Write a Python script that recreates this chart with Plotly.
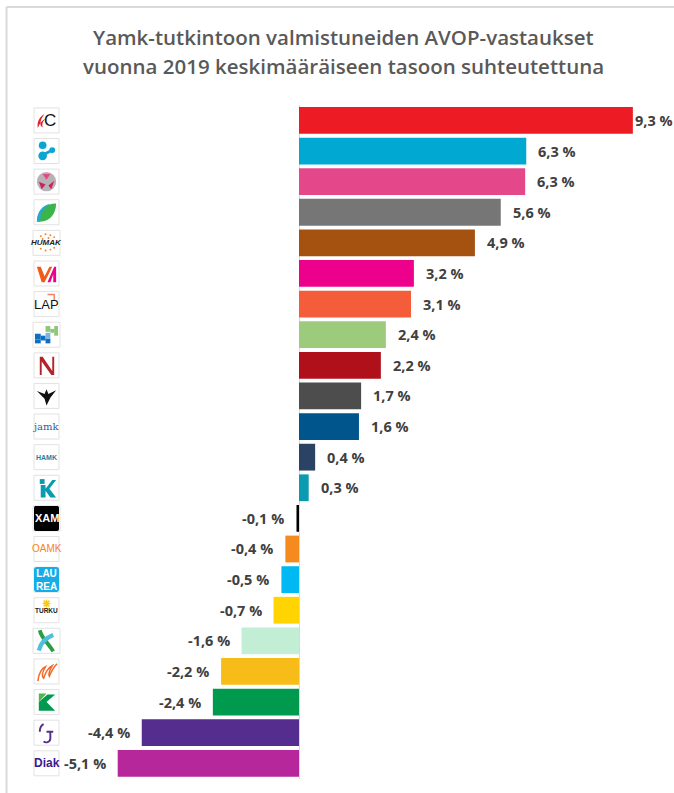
import base64
import plotly.graph_objects as go

W, H = 674, 793

logos = ["CC", "dots", "ball", "leaf", "HUMAK", "VA", "LAP", "blocks", "N", "bird", "jamk",
         "HAMK", "K-teal", "XAMK", "OAMK", "LAUREA", "TURKU", "X", "M", "K-green", "rj", "Diak"]
values = [9.3, 6.33, 6.3, 5.62, 4.9, 3.2, 3.12, 2.42, 2.28, 1.73, 1.67,
          0.45, 0.27, -0.07, -0.38, -0.49, -0.71, -1.6, -2.17, -2.4, -4.38, -5.05]
labels = ["9,3 %", "6,3 %", "6,3 %", "5,6 %", "4,9 %", "3,2 %", "3,1 %", "2,4 %", "2,2 %", "1,7 %", "1,6 %",
          "0,4 %", "0,3 %", "-0,1 %", "-0,4 %", "-0,5 %", "-0,7 %", "-1,6 %", "-2,2 %", "-2,4 %", "-4,4 %", "-5,1 %"]
colors = ["#ed1c24", "#00a8d2", "#e5488a", "#767676", "#a5510f", "#ec008c", "#f55c3a", "#9ccb7c",
          "#b0101a", "#4d4d4d", "#00558c", "#2a4365", "#0b9bb0", "#000000", "#f58a1f", "#00b9f2",
          "#ffd400", "#c2eed6", "#f7bc18", "#009a4e", "#552d8e", "#b5279a"]
title_lines = ["Yamk-tutkintoon valmistuneiden AVOP-vastaukset",
               "vuonna 2019 keskimääräiseen tasoon suhteutettuna"]

# Text inside the logo tiles: logo id -> (text, colour, size, family, bold)
logo_text = {
    "CC": ("C", "#111111", 17, "Liberation Sans", False),
    "HUMAK": ("<i>HUMAK</i>", "#222222", 8, "Liberation Sans", True),
    "LAP": ("LAP", "#111111", 13, "Liberation Sans", False),
    "jamk": ("jamk", "#2a5f95", 10, "DejaVu Serif", False),
    "HAMK": ("HAMK", "#1f7f9f", 7, "Liberation Sans", True),
    "XAMK": ("XAM", "#ffffff", 11, "Liberation Sans", True),
    "OAMK": ("OAMK", "#f58220", 10, "Liberation Sans", False),
    "LAUREA": ("LAU<br>REA", "#ffffff", 10, "Liberation Sans", True),
    "TURKU": ("TURKU", "#222222", 6.5, "Liberation Sans", True),
    "Diak": ("Diak", "#3b1a8f", 12, "Liberation Sans", True),
}

# Logo graphics, in a 26x26 tile
logo_svg = {
    "CC": '<path d="M11 6C5 10 3 15 4 21C6 16 8 13 12 11C9 14 8 17 9 20C6 19 5 14 11 6Z" fill="#e3202c"/>',
    "dots": '<circle cx="9" cy="7" r="4" fill="#0aa5d3"/><circle cx="19" cy="12" r="3" fill="#0aa5d3"/>'
            '<circle cx="9" cy="18" r="4.5" fill="#0aa5d3"/><path d="M10 17L19 12" stroke="#0aa5d3" stroke-width="3"/>',
    "ball": '<circle cx="13" cy="13" r="10" fill="#b9b2b5"/><path d="M9 5L17 5L13 11Z" fill="#e5488a"/>'
            '<path d="M5 13L12 16L8 21Z" fill="#c7245f"/><path d="M21 12L15 17L18 21Z" fill="#c7245f"/>',
    "leaf": '<path d="M3 23C3 12 12 4 23 4C23 14 17 23 6 23Z" fill="#3bb54a"/>'
            '<path d="M3 23C3 12 9 6 17 4C9 9 7 16 6 23Z" fill="#2ba8c8"/>',
    "HUMAK": ''.join(f'<circle cx="{x}" cy="{y}" r="1" fill="#f58220"/>' for x, y in
                     [(7, 6), (12, 4), (17, 5), (21, 7), (9, 9), (15, 8), (7, 19), (12, 21), (17, 20), (21, 18)]),
    "VA": '<path d="M3 6H7L11 16L16 6H19L11 22H8Z" fill="#f05a1a"/><path d="M14 22L21 6H23V22H20V14L17 22Z" fill="#ec008c"/>',
    "LAP": '<path d="M14 3H21V9" fill="none" stroke="#f0826a" stroke-width="1.5"/>',
    "blocks": '<g fill="#0d6fc2"><rect x="1" y="12" width="6" height="6"/><rect x="1" y="18" width="6" height="4"/>'
              '<rect x="7" y="14" width="5" height="5"/><rect x="12" y="17" width="5" height="5"/></g>'
              '<rect x="12" y="11" width="5" height="6" fill="#7fb3e0"/>'
              '<g fill="#8fc67a"><rect x="12" y="4" width="5" height="6"/><rect x="17" y="7" width="4" height="4"/>'
              '<rect x="21" y="4" width="4" height="10"/></g>',
    "N": '<path d="M6 4H9L19 19V4H21V23H18L8 9V23H6Z" fill="#b3232b"/>',
    "bird": '<path d="M3 8L11 11L13 6L15 11L23 7L17 15L13 23L11 16Z" fill="#111"/>',
    "K-teal": '<rect x="6" y="4" width="5" height="5" fill="#0b9bb0"/><path d="M7 10H12V14L19 5H23L16 14L23 23H17L12 16V23H7Z" fill="#0b9bb0"/>',
    "XAMK": '<rect width="26" height="26" rx="2" fill="#000"/>',
    "LAUREA": '<rect width="26" height="26" rx="3" fill="#15ade8"/>',
    "TURKU": '<path d="M13 2V10M9 6H17M10 3L16 9M16 3L10 9" stroke="#f9c81e" stroke-width="1.5"/>',
    "X": '<path d="M6 2C8 11 15 15 20 24" fill="none" stroke="#2a9d45" stroke-width="4"/>'
         '<path d="M20 7C12 10 7 15 5 23" fill="none" stroke="#4fbfe0" stroke-width="4.5"/>',
    "M": '<path d="M4 23C5 14 9 9 12 8C9 13 8 18 10 20C12 14 15 9 19 7C16 12 15 16 16 18C18 13 20 9 24 5" fill="none" stroke="#ee6c2c" stroke-width="1.6"/>',
    "K-green": '<path d="M5 4H13L5 13Z" fill="#4cb848"/><path d="M5 13L14 5H22L13 13Z" fill="#009a4e"/><path d="M5 13H13L22 22H5Z" fill="#009a4e"/>',
    "rj": '<path d="M6 12C6 8 8 5 10 4M13 12H20M17 12V19C17 23 12 24 10 22" fill="none" stroke="#552d8e" stroke-width="2"/>',
}
wide_tiles = {"HUMAK", "blocks", "XAMK", "X"}


def data_uri(body):
    svg = f'<svg xmlns="http://www.w3.org/2000/svg" width="130" height="130" viewBox="0 0 26 26">{body}</svg>'
    return "data:image/svg+xml;base64," + base64.b64encode(svg.encode()).decode()


fig = go.Figure(go.Bar(
    y=logos, x=values, orientation="h",
    marker=dict(color=colors, line=dict(width=0)), width=0.875,
    hoverinfo="skip",
))

annotations = []
for i, (name, v, lab) in enumerate(zip(logos, values, labels)):
    gap = 0 if i == 0 else 10
    annotations.append(dict(
        x=v, y=name, xref="x", yref="y", text=lab, showarrow=False,
        xanchor="left" if v >= 0 else "right", yanchor="middle",
        xshift=gap if v >= 0 else -gap,
        font=dict(family="Open Sans", size=14.5, color="#404040", weight=700),
    ))
    if name in logo_text:
        t, c, s, fam, b = logo_text[name]
        xp = 50 if name == "CC" else 46.5
        annotations.append(dict(
            x=xp / W, y=name, xref="paper", yref="y", text=t, showarrow=False,
            xanchor="center", yanchor="middle",
            font=dict(family=fam, size=s, color=c, weight=700 if b else 400),
        ))

for txt, cx, cy in zip(title_lines, [343.5, 343.5], [37, 66]):
    annotations.append(dict(
        x=cx / W, y=1 - cy / H, xref="paper", yref="paper", text=txt, showarrow=False,
        xanchor="center", yanchor="middle",
        font=dict(family="Open Sans", size=20.5, color="#595959", weight=600),
    ))

shapes = [
    dict(type="line", xref="paper", yref="paper", x0=6.5 / W, x1=6.5 / W, y0=0, y1=1 - 7 / H,
         line=dict(color="#d9d9d9", width=2), layer="below"),
    dict(type="line", xref="paper", yref="paper", x0=6.5 / W, x1=1, y0=1 - 7 / H, y1=1 - 7 / H,
         line=dict(color="#d9d9d9", width=2), layer="below"),
]
images = []
row = 30.62
for i, name in enumerate(logos):
    tw = 27 if name in wide_tiles else 25
    shapes.append(dict(
        type="rect", xref="paper", yref="y", x0=(46.5 - tw / 2) / W, x1=(46.5 + tw / 2) / W,
        y0=i - 12.5 / row, y1=i + 12.5 / row,
        line=dict(color="#e2e2e2", width=1), fillcolor="white", layer="below",
    ))
    if name in logo_svg:
        images.append(dict(
            source=data_uri(logo_svg[name]), xref="paper", yref="y",
            x=46.5 / W, y=i, sizex=25 / W, sizey=25 / row,
            xanchor="center", yanchor="middle", sizing="stretch", layer="above",
        ))

fig.update_layout(
    width=W, height=H, autosize=False,
    margin=dict(l=0, r=0, t=0, b=0, pad=0),
    paper_bgcolor="white", plot_bgcolor="white", showlegend=False,
    xaxis=dict(range=[(0 - 299) / 35.9, (W - 299) / 35.9], visible=True, showticklabels=False,
               showgrid=False, ticks="", zeroline=True, zerolinecolor="#d9d9d9", zerolinewidth=1,
               domain=[0, 1], fixedrange=True),
    yaxis=dict(autorange="reversed", type="category", categoryorder="array", categoryarray=logos,
               showticklabels=False, showgrid=False, ticks="", showline=False,
               domain=[(H - 778.6) / H, 1 - 105.1 / H], fixedrange=True),
    annotations=annotations, shapes=shapes, images=images,
)

fig.write_html("out.html", config=dict(displayModeBar=False),
               post_script="document.body.style.margin='0';document.body.style.overflow='hidden';")
